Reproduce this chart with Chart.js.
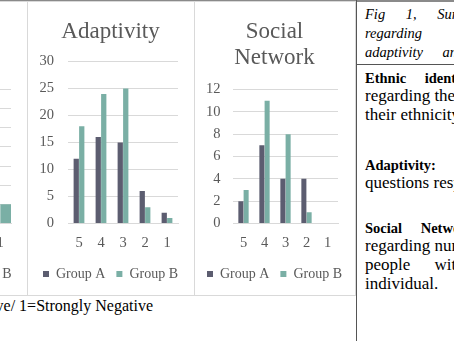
<!DOCTYPE html>
<html>
<head>
<meta charset="utf-8">
<script src="https://cdn.jsdelivr.net/npm/chart.js@4.4.1/dist/chart.umd.min.js"></script>
<style>
  html, body { margin: 0; padding: 0; background: #fff; }
  body { width: 454px; height: 341px; position: relative; overflow: hidden; font-family: "Liberation Serif", serif; }
  .box { position: absolute; border: 1px solid #d9d9d9; box-sizing: border-box; }
  .chart { position: absolute; }
  .line { position: absolute; background: #555; }
  .txt { position: absolute; left: 365px; white-space: nowrap; font-size: 17px; line-height: 18px; color: #000; }
  .txt b { font-size: 14.5px; }
  .it { font-style: italic; font-size: 14.5px; }
</style>
</head>
<body>
<div class="line" style="left:0;top:0;width:454px;height:1.5px;background:#8a8a8a"></div>
<div class="box" style="left:-140px;top:1px;width:168px;height:295px"></div>
<div class="box" style="left:27px;top:1px;width:168px;height:295px"></div>
<div class="box" style="left:194px;top:1px;width:162px;height:295px"></div>

<div class="chart" style="left:-139px;top:1px;width:166px;height:294px"><canvas id="ethnic"></canvas></div>
<div class="chart" style="left:27px;top:1px;width:167px;height:294px"><canvas id="adapt"></canvas></div>
<div class="chart" style="left:194px;top:1px;width:161px;height:294px"><canvas id="social"></canvas></div>

<div class="line" style="left:356px;top:0;width:1px;height:341px"></div>
<div class="line" style="left:357px;top:64px;width:97px;height:1px"></div>

<div class="txt it" style="top:5px;word-spacing:17px">Fig 1, Survey results</div>
<div class="txt it" style="top:24px;word-spacing:60px">regarding ethnic</div>
<div class="txt it" style="top:43px;word-spacing:16px">adaptivity and social network</div>
<div class="txt" style="top:69px;word-spacing:15px"><b>Ethnic identity:</b></div>
<div class="txt" style="top:87px">regarding the feelings</div>
<div class="txt" style="top:106px">their ethnicity</div>
<div class="txt" style="top:156px;word-spacing:40px"><b>Adaptivity:</b> questions</div>
<div class="txt" style="top:174px">questions responding</div>
<div class="txt" style="top:219px;word-spacing:15px"><b>Social Network:</b></div>
<div class="txt" style="top:237px">regarding number of</div>
<div class="txt" style="top:256px;word-spacing:20px">people with</div>
<div class="txt" style="top:275px">individual.</div>

<div class="txt" style="left:auto;right:301px;top:297px;font-size:16px">5=Strongly Positive/ 1=Strongly Negative</div>

<script>
const categories = ['5', '4', '3', '2', '1'];
const seriesNames = ['Group A', 'Group B'];

const ethnicA = [5, 9, 7, 3, 0];
const ethnicB = [8, 12, 6, 4, 2];
const adaptA = [12, 16, 15, 6, 2];
const adaptB = [18, 24, 25, 3, 1];
const socialA = [2, 7, 4, 4, 0];
const socialB = [3, 11, 8, 1, 0];

const colorA = '#5c5d70';
const colorB = '#7aafa5';
const textGray = '#595959';
const gridGray = '#d9d9d9';

Chart.defaults.font.family = '"Liberation Serif", serif';
Chart.defaults.color = textGray;

function makeChart(id, title, a, b, yMax, yStep, opt) {
    const ctx = document.getElementById(id).getContext('2d');
    return new Chart(ctx, {
        type: 'bar',
        data: {
            labels: categories,
            datasets: [
                { label: seriesNames[0], data: a, backgroundColor: colorA,
                  categoryPercentage: opt.catPct, barPercentage: 0.96 },
                { label: seriesNames[1], data: b, backgroundColor: colorB,
                  categoryPercentage: opt.catPct, barPercentage: 0.96 },
            ],
        },
        options: {
            responsive: true,
            maintainAspectRatio: false,
            animation: false,
            layout: { padding: { left: 0, right: 0, top: 0, bottom: 4 } },
            plugins: {
                title: {
                    display: true,
                    text: title,
                    color: textGray,
                    font: { size: 23, weight: 'normal', lineHeight: 1.13 },
                    padding: { top: 17.5, bottom: opt.titleBottom },
                },
                legend: {
                    position: 'bottom',
                    labels: { boxWidth: 6, boxHeight: 6, padding: 11, color: textGray,
                              font: { size: 14 } },
                },
                tooltip: { enabled: false },
            },
            scales: {
                x: {
                    grid: { display: false, drawTicks: false },
                    border: { display: true, color: gridGray, width: 1 },
                    ticks: { padding: 11, font: { size: 14.5 }, color: textGray,
                             maxRotation: 0, minRotation: 0, autoSkip: false },
                    afterFit: s => { s.height = 32.5; },
                },
                y: {
                    min: 0,
                    max: yMax,
                    grid: { color: gridGray, drawTicks: false },
                    border: { display: false },
                    ticks: { stepSize: yStep, padding: opt.tickPad, font: { size: 14.5 },
                             color: textGray, autoSkip: false },
                    afterFit: s => { s.width = opt.yWidth; },
                },
                // empty axis that only keeps the gap right of the plot
                pad: {
                    type: 'linear',
                    position: 'right',
                    grid: { display: false },
                    border: { display: false },
                    ticks: { display: false },
                    afterFit: s => { s.width = opt.right; },
                },
            },
        },
    });
}

makeChart('ethnic', ['Ethnic', 'Identity'], ethnicA, ethnicB, 14, 2,
    { catPct: 1.04, right: 16, titleBottom: 19, tickPad: 14, yWidth: 41 });
makeChart('adapt', 'Adaptivity', adaptA, adaptB, 30, 5,
    { catPct: 0.5, right: 16, titleBottom: 17, tickPad: 14, yWidth: 41 });
makeChart('social', ['Social', 'Network'], socialA, socialB, 12, 2,
    { catPct: 0.5, right: 17, titleBottom: 19, tickPad: 12.5, yWidth: 39 });
</script>
</body>
</html>
